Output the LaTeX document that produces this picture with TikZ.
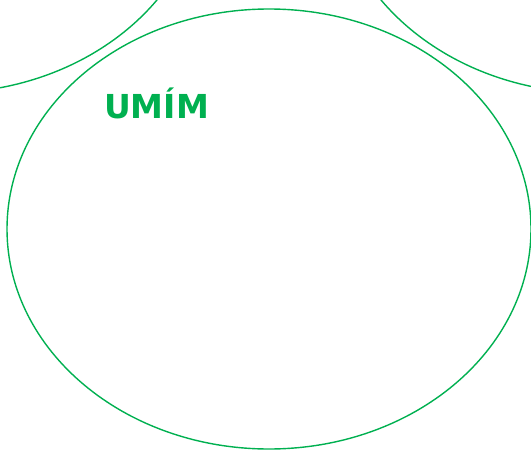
\documentclass[tikz,border=0pt]{standalone}
\usepackage{fontspec}
\setsansfont{DejaVu Sans}
\definecolor{umgreen}{HTML}{00B050}

\begin{document}
\begin{tikzpicture}[
  x=1pt, y=-1pt,
  set/.style={draw=umgreen, line width=1.4pt},
  title/.style={text=umgreen, font=\sffamily\bfseries\fontsize{33}{36}\selectfont, inner sep=0pt}
]
\useasboundingbox (0,0) rectangle (531,450);
\clip (0,0) rectangle (531,450);
% the three sets
\draw[set] (-57,-127) ellipse [x radius=262, y radius=220];
\draw[set] (595,-127) ellipse [x radius=262, y radius=220];
\draw[set] (269,229) ellipse [x radius=262, y radius=220];
% label
\node[title, anchor=base west] (umim) at (104,118) {UMÍM};
\end{tikzpicture}
\end{document}
